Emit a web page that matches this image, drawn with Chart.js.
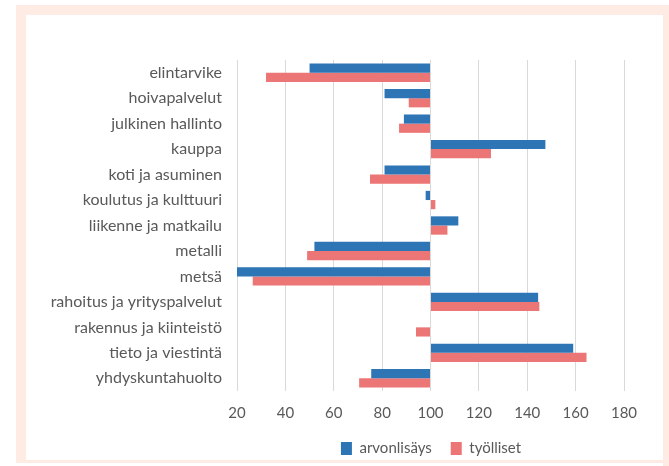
<!DOCTYPE html>
<html>
<head>
<meta charset="utf-8">
<script src="https://cdn.jsdelivr.net/npm/chart.js@4"></script>
<style>
  html, body { margin: 0; padding: 0; background: #fff; }
  body { width: 669px; height: 466px; position: relative; overflow: hidden; }
  .wrap { position: absolute; left: 0; top: 0; width: 669px; height: 466px; }
  .frame {
    position: absolute; left: 16px; top: 5px; width: 700px; height: 458px;
    border-left: 10px solid #fdebe4; border-top: 10px solid #fdebe4;
    border-bottom: 3px solid #fdebe4; box-sizing: border-box;
  }
  .right { position: absolute; left: 663px; top: 5px; width: 6px; height: 461px; background: #fdebe4; }
</style>
</head>
<body>
<div class="frame"></div>
<div class="right"></div>
<div class="wrap"><canvas id="canvas" width="669" height="466"></canvas></div>
<script>
const categories = [
    'elintarvike',
    'hoivapalvelut',
    'julkinen hallinto',
    'kauppa',
    'koti ja asuminen',
    'koulutus ja kulttuuri',
    'liikenne ja matkailu',
    'metalli',
    'metsä',
    'rahoitus ja yrityspalvelut',
    'rakennus ja kiinteistö',
    'tieto ja viestintä',
    'yhdyskuntahuolto'
]

const arvonlisays = [50, 81, 89, 147.5, 81, 98, 111.5, 52, 20, 144.5, 100, 159, 75.5]
const tyolliset = [32, 91, 87, 125, 75, 102, 107, 49, 26.5, 145, 94, 164.5, 70.5]

const xTicks = [20, 40, 60, 80, 100, 120, 140, 160, 180]

const gray = '#595959'
const font = { family: 'Lato', size: 15 }

// keep the legend centred under the plot, as in the original
const legendUnderPlot = {
    id: 'legendUnderPlot',
    afterLayout: chart => {
        chart.legend.left = 237
        chart.legend.right = 625
    }
}

const ctx = document.querySelector('#canvas').getContext('2d')
const myChart = new Chart(ctx, {
    type: 'bar',
    data: {
        labels: categories,
        datasets: [{
            label: 'arvonlisäys',
            data: arvonlisays,
            base: 100,
            backgroundColor: '#2e75b6',
            borderWidth: 0
        }, {
            label: 'työlliset',
            data: tyolliset,
            base: 100,
            backgroundColor: '#ec7575',
            borderWidth: 0
        }]
    },
    plugins: [legendUnderPlot],
    options: {
        indexAxis: 'y',
        responsive: false,
        animation: false,
        datasets: {
            bar: {
                categoryPercentage: 0.72,
                barPercentage: 1
            }
        },
        layout: {
            padding: { top: 60, left: 0, right: 45, bottom: 0 }
        },
        scales: {
            x: {
                min: xTicks[0],
                max: xTicks[xTicks.length - 1],
                afterBuildTicks: scale => {
                    scale.ticks = xTicks.map(v => ({ value: v }))
                },
                grid: { color: '#d9d9d9', drawTicks: false, lineWidth: 1 },
                border: { display: false },
                ticks: { color: gray, font, padding: 13 },
                afterFit: scale => { scale.height = 31 }
            },
            y: {
                grid: { display: false, drawTicks: false },
                border: { display: false },
                ticks: { color: gray, font: { family: 'Lato', size: 16 }, padding: 15 },
                afterFit: scale => { scale.width = 237 }
            }
        },
        plugins: {
            legend: {
                position: 'bottom',
                labels: {
                    color: gray,
                    font,
                    boxWidth: 11,
                    boxHeight: 13,
                    padding: 19
                }
            },
            tooltip: { enabled: false }
        }
    }
})
</script>
</body>
</html>
